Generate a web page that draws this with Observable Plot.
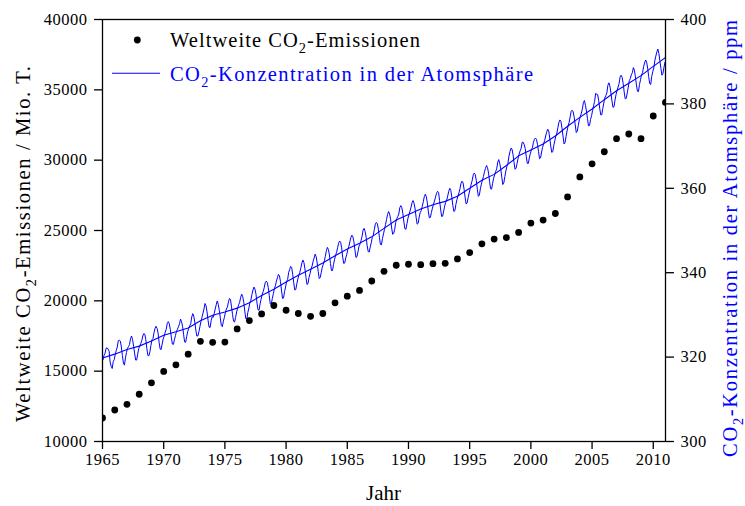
<!DOCTYPE html>
<html>
<head>
<meta charset="utf-8">
<script src="https://cdn.jsdelivr.net/npm/d3@7"></script>
<script src="https://cdn.jsdelivr.net/npm/@observablehq/plot@0.6"></script>
<style>
  body { margin: 0; background: #fff; }
  svg text { font-family: "Liberation Serif", "Times New Roman", serif; }
  .ticks text { letter-spacing: 0.5px; }
</style>
</head>
<body>
<div id="chart"></div>
<script>
// Global CO2 emissions (million tonnes), one value per year
const emissionYears = [1965, 1966, 1967, 1968, 1969, 1970, 1971, 1972, 1973, 1974,
  1975, 1976, 1977, 1978, 1979, 1980, 1981, 1982, 1983, 1984,
  1985, 1986, 1987, 1988, 1989, 1990, 1991, 1992, 1993, 1994,
  1995, 1996, 1997, 1998, 1999, 2000, 2001, 2002, 2003, 2004,
  2005, 2006, 2007, 2008, 2009, 2010, 2011];
const emissionValues = [11670, 12240, 12640, 13360, 14170, 14980, 15450, 16210, 17120, 17050,
  17070, 18000, 18600, 19070, 19670, 19330, 19100, 18900, 19100, 19860,
  20330, 20740, 21410, 22100, 22530, 22600, 22570, 22640, 22670, 22980,
  23430, 24050, 24390, 24500, 24860, 25530, 25740, 26210, 27390, 28810,
  29740, 30600, 31530, 31860, 31530, 33140, 34100];

// Atmospheric CO2 (ppm): monthly means, Jan..Dec for each year
const co2Years = [1965, 1966, 1967, 1968, 1969, 1970, 1971, 1972, 1973, 1974,
  1975, 1976, 1977, 1978, 1979, 1980, 1981, 1982, 1983, 1984,
  1985, 1986, 1987, 1988, 1989, 1990, 1991, 1992, 1993, 1994,
  1995, 1996, 1997, 1998, 1999, 2000, 2001, 2002, 2003, 2004,
  2005, 2006, 2007, 2008, 2009, 2010];
const co2Monthly = [
  [319.4, 320.4, 320.9, 322.1, 322.2, 321.9, 321.4, 318.8, 317.8, 317.3, 318.9, 319.4],
  [320.6, 321.6, 322.4, 323.9, 324.0, 323.8, 322.4, 320.4, 318.6, 318.1, 319.8, 321.1],
  [322.1, 322.5, 323.0, 324.4, 325.0, 324.1, 322.6, 320.9, 319.3, 319.3, 320.7, 322.0],
  [322.6, 323.2, 323.9, 325.0, 325.6, 325.4, 324.1, 322.0, 320.4, 320.3, 321.3, 322.8],
  [324.1, 324.4, 325.8, 326.8, 327.3, 326.8, 325.7, 323.5, 321.9, 321.8, 323.1, 324.3],
  [325.0, 325.9, 326.6, 328.0, 328.4, 327.9, 326.5, 324.7, 323.1, 323.0, 324.1, 325.1],
  [326.1, 326.6, 327.2, 327.9, 329.0, 328.4, 327.3, 325.4, 323.6, 323.5, 324.8, 326.0],
  [326.8, 327.4, 327.9, 329.5, 330.3, 329.7, 328.3, 326.4, 325.0, 325.0, 326.0, 327.2],
  [328.4, 329.4, 330.4, 331.4, 332.7, 332.2, 330.7, 328.7, 327.1, 327.0, 328.6, 329.6],
  [329.4, 330.3, 331.4, 332.4, 333.3, 332.5, 331.1, 329.3, 327.5, 327.2, 328.5, 329.4],
  [330.6, 331.4, 331.9, 333.1, 333.9, 333.6, 331.9, 330.1, 328.5, 328.3, 329.4, 330.7],
  [331.6, 332.4, 333.0, 334.2, 334.9, 334.3, 333.0, 330.9, 329.1, 329.0, 330.6, 331.6],
  [332.9, 333.5, 334.8, 335.9, 336.6, 336.1, 334.9, 332.8, 331.2, 331.1, 332.6, 333.7],
  [334.8, 335.5, 336.4, 337.6, 338.0, 337.7, 336.5, 334.6, 332.6, 332.6, 333.9, 335.0],
  [336.2, 336.9, 338.0, 338.8, 339.6, 339.3, 337.9, 335.9, 333.9, 334.0, 335.5, 336.6],
  [337.9, 338.4, 340.0, 340.8, 341.5, 341.2, 339.6, 337.6, 335.9, 336.0, 337.3, 338.5],
  [339.4, 340.1, 341.2, 342.3, 343.0, 342.4, 340.9, 338.9, 337.2, 337.4, 338.9, 339.8],
  [340.9, 341.6, 342.7, 343.5, 344.4, 343.8, 342.3, 340.3, 338.6, 338.9, 340.1, 341.3],
  [342.0, 342.8, 343.9, 345.2, 346.0, 345.5, 344.2, 342.2, 340.5, 340.5, 341.9, 343.1],
  [344.1, 344.8, 345.9, 347.0, 347.5, 347.2, 345.9, 343.7, 342.2, 342.3, 343.5, 344.3],
  [345.5, 346.2, 347.3, 348.3, 348.9, 348.5, 347.3, 345.4, 343.6, 343.8, 345.0, 346.3],
  [346.8, 347.6, 348.6, 350.1, 350.5, 349.8, 348.4, 346.4, 345.0, 344.9, 346.1, 347.1],
  [348.4, 348.9, 350.2, 351.5, 351.9, 351.6, 350.3, 348.4, 346.7, 346.6, 348.1, 349.2],
  [350.3, 351.4, 352.6, 353.8, 354.5, 353.9, 352.6, 350.6, 349.1, 349.3, 350.3, 351.9],
  [352.8, 353.3, 353.9, 355.4, 355.9, 355.4, 354.0, 352.0, 350.4, 350.3, 351.6, 352.9],
  [353.8, 354.6, 355.5, 356.6, 357.1, 356.4, 355.1, 353.1, 351.5, 351.7, 353.2, 354.3],
  [354.7, 355.7, 356.8, 358.0, 358.6, 358.0, 356.5, 354.4, 353.0, 353.1, 354.3, 355.3],
  [356.2, 357.0, 357.9, 358.8, 359.3, 359.0, 357.1, 355.1, 353.3, 353.4, 354.6, 355.8],
  [356.7, 357.2, 358.2, 359.3, 360.0, 359.5, 357.9, 355.9, 354.5, 354.7, 356.2, 357.3],
  [358.2, 358.9, 359.9, 361.2, 361.7, 361.3, 359.8, 357.9, 356.3, 356.5, 357.8, 358.9],
  [359.9, 361.0, 361.9, 363.2, 363.6, 363.2, 361.8, 359.8, 358.1, 358.4, 359.9, 361.0],
  [362.0, 362.8, 363.9, 364.7, 365.4, 364.9, 363.6, 361.6, 359.9, 359.8, 361.2, 362.4],
  [363.2, 364.0, 364.6, 366.2, 366.8, 365.9, 364.5, 362.6, 360.9, 361.3, 362.8, 364.1],
  [365.2, 365.9, 367.6, 368.7, 369.5, 369.3, 368.0, 366.1, 364.5, 364.8, 365.9, 367.1],
  [368.1, 368.9, 369.5, 370.9, 370.9, 370.3, 369.4, 367.5, 365.9, 365.9, 367.2, 368.3],
  [369.1, 369.6, 370.9, 371.6, 371.9, 371.6, 370.4, 368.7, 367.0, 367.2, 368.6, 369.7],
  [370.6, 371.3, 372.4, 373.3, 374.0, 373.6, 371.9, 370.0, 368.5, 368.7, 370.2, 371.3],
  [372.4, 373.1, 374.4, 375.6, 376.2, 375.8, 374.3, 372.4, 370.5, 370.8, 372.3, 373.6],
  [374.8, 375.6, 376.9, 378.2, 378.5, 378.1, 376.8, 375.0, 373.2, 373.5, 374.9, 376.2],
  [377.0, 377.8, 378.8, 380.3, 380.8, 379.7, 378.3, 376.5, 374.8, 374.9, 376.3, 377.2],
  [378.4, 379.6, 380.6, 382.5, 382.3, 382.2, 380.8, 379.0, 377.4, 377.4, 378.9, 380.2],
  [381.4, 382.0, 382.6, 384.4, 385.0, 384.2, 382.6, 380.7, 379.2, 379.3, 380.9, 382.2],
  [383.2, 384.0, 384.8, 386.4, 386.8, 386.3, 384.8, 382.8, 381.2, 381.3, 382.6, 384.0],
  [385.5, 386.0, 386.9, 387.4, 388.6, 388.0, 386.4, 384.5, 383.0, 382.9, 384.6, 385.7],
  [386.9, 387.4, 388.8, 389.7, 390.4, 389.9, 388.5, 386.5, 384.8, 384.6, 386.5, 387.6],
  [388.5, 390.2, 391.3, 392.3, 393.0, 392.0, 390.2, 388.4, 386.8, 387.2, 388.7, 389.9]
];

// Smoothed (deseasonalised) CO2 level at the start of each year
const trendYears = emissionYears;
const trendValues = [319.8, 320.7, 321.8, 322.6, 323.8, 325.2, 326.0, 326.9, 328.6, 329.9,
  330.7, 331.6, 332.9, 334.6, 336.1, 337.8, 339.4, 340.8, 342.3, 344.0,
  345.6, 347.0, 348.5, 350.5, 352.5, 353.8, 355.1, 356.1, 356.9, 358.1,
  360.0, 361.9, 363.3, 365.4, 367.7, 369.1, 370.5, 372.4, 374.7, 376.8,
  378.8, 381.0, 383.1, 384.9, 386.7, 388.9, 391.0];

// Axis ticks
const xTicks = [1965, 1970, 1975, 1980, 1985, 1990, 1995, 2000, 2005, 2010];
const emissionTicks = [10000, 15000, 20000, 25000, 30000, 35000, 40000];
const ppmTicks = [300, 320, 340, 360, 380, 400];

// Texts
const xLabel = "Jahr";
const leftLabel = "Weltweite CO₂-Emissionen / Mio. T.";
const rightLabel = "CO₂-Konzentration in der Atomsphäre / ppm";
const legendEmission = "Weltweite CO₂-Emissionen";
const legendConcentration = "CO₂-Konzentration in der Atomsphäre";

const BLUE = "#0000ff";

// The ppm axis (300–400) is laid over the emission axis (10000–40000)
const ppmToE = p => 10000 + (p - 300) * 300;
const eToPpm = e => 300 + (e - 10000) / 300;

const emissions = emissionYears.map((year, i) => ({year, value: emissionValues[i]}));
const monthly = co2Years.flatMap((year, i) =>
  co2Monthly[i].map((ppm, m) => ({t: year + (m + 0.5) / 12, ppm})));
const trend = trendYears.map((year, i) => ({t: year, ppm: trendValues[i]}));

const chart = Plot.plot({
  width: 745,
  height: 506,
  marginLeft: 102,
  marginRight: 80,
  marginTop: 19,
  marginBottom: 65,
  style: {fontFamily: '"Liberation Serif", serif', fontSize: "16.5px", color: "#000", background: "#fff"},
  x: {domain: [1965, 2011]},
  y: {domain: [10000, 40000]},
  marks: [
    Plot.line(monthly, {x: "t", y: d => ppmToE(d.ppm), stroke: BLUE, strokeWidth: 1, clip: true}),
    Plot.line(trend, {x: "t", y: d => ppmToE(d.ppm), stroke: BLUE, strokeWidth: 1.1, clip: true}),
    Plot.dot(emissions, {x: "year", y: "value", r: 3.4, fill: "#000", stroke: "none", clip: true}),
    Plot.frame({stroke: "#000", strokeWidth: 1.3}),
    Plot.axisX({ticks: xTicks, tickFormat: "d", tickSize: 8, tickPadding: 4, strokeWidth: 1.3, label: null, className: "ticks"}),
    Plot.axisY({anchor: "left", ticks: emissionTicks, tickFormat: "d", tickSize: 8, tickPadding: 7, strokeWidth: 1.3, label: null, className: "ticks"}),
    Plot.axisY({anchor: "right", ticks: ppmTicks.map(ppmToE), tickFormat: e => String(Math.round(eToPpm(e))),
      tickSize: 8, tickPadding: 7, strokeWidth: 1.3, label: null, className: "ticks"})
  ]
});

document.getElementById("chart").appendChild(chart);

// Text with a lowered "2" in CO2, optionally stretched to a given run length
function richText(parent, str, fs, len, attrs) {
  const t = parent.append("text")
    .attr("font-size", fs)
    .attr("text-anchor", "start");
  if (len) t.attr("textLength", len).attr("lengthAdjust", "spacing");
  Object.entries(attrs).forEach(([k, v]) => t.attr(k, v));
  const parts = str.split("₂");
  parts.forEach((p, i) => {
    if (i > 0) {
      t.append("tspan").attr("font-size", fs * 0.7).attr("dy", fs * 0.3).text("2");
      t.append("tspan").attr("dy", -fs * 0.3).text(p);
    } else {
      t.append("tspan").text(p);
    }
  });
  return t;
}

const svg = d3.select(chart);
const FS = 20.5;

// Axis titles
richText(svg, xLabel, 21, null, {x: 383.5, y: 500, "text-anchor": "middle", fill: "#000"});
richText(svg, leftLabel, FS, 356, {transform: "translate(29.5,422) rotate(-90)", fill: "#000"});
richText(svg, rightLabel, FS, 437, {transform: "translate(737,457) rotate(-90)", fill: BLUE});

// Legend
const lg = svg.append("g");
lg.append("circle").attr("cx", 137.3).attr("cy", 40).attr("r", 3.4).attr("fill", "#000");
richText(lg, legendEmission, FS, 250, {x: 170, y: 46.7, fill: "#000"});
lg.append("line").attr("x1", 112).attr("x2", 160).attr("y1", 73.3).attr("y2", 73.3)
  .attr("stroke", BLUE).attr("stroke-width", 1.1);
richText(lg, legendConcentration, FS, 363, {x: 170, y: 80.5, fill: BLUE});
</script>
</body>
</html>
